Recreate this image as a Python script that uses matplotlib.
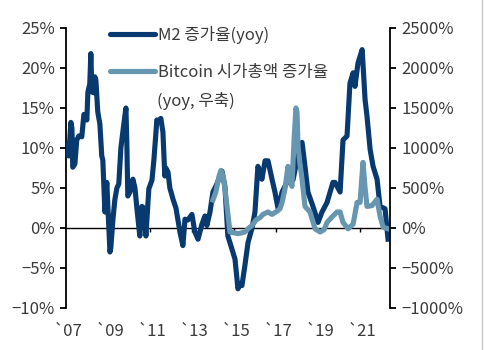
import matplotlib
matplotlib.use("Agg")
import matplotlib.pyplot as plt
from matplotlib.lines import Line2D

plt.rcParams['font.family'] = ['Noto Sans CJK KR', 'DejaVu Sans']

# M2 증가율 (yoy, %), 좌축
m2_year = [2007.00, 2007.10, 2007.14, 2007.24, 2007.29, 2007.33, 2007.43, 2007.52, 2007.62, 2007.76,
           2007.86, 2007.95, 2008.00, 2008.05, 2008.14, 2008.19, 2008.24, 2008.29, 2008.33, 2008.38,
           2008.43, 2008.52, 2008.62, 2008.71, 2008.76, 2008.86, 2008.95, 2009.00, 2009.10, 2009.14,
           2009.24, 2009.33, 2009.43, 2009.52, 2009.62, 2009.76, 2009.86, 2009.90, 2009.95, 2010.05,
           2010.19, 2010.29, 2010.38, 2010.52, 2010.62, 2010.71, 2010.81, 2010.95, 2011.10, 2011.19,
           2011.29, 2011.33, 2011.43, 2011.52, 2011.62, 2011.71, 2011.76, 2011.86, 2011.95, 2012.10,
           2012.24, 2012.43, 2012.57, 2012.67, 2012.81, 2013.00, 2013.14, 2013.29, 2013.48, 2013.62,
           2013.71, 2013.86, 2014.00, 2014.19, 2014.33, 2014.43, 2014.57, 2014.71, 2014.90, 2015.05,
           2015.19, 2015.29, 2015.38, 2015.52, 2015.67, 2015.86, 2016.00, 2016.14, 2016.24, 2016.33,
           2016.48, 2016.62, 2016.81, 2016.95, 2017.10, 2017.29, 2017.52, 2017.81, 2018.00, 2018.24,
           2018.38, 2018.52, 2018.76, 2019.00, 2019.19, 2019.43, 2019.71, 2019.81, 2020.05, 2020.19,
           2020.38, 2020.52, 2020.67, 2020.76, 2020.90, 2021.10, 2021.24, 2021.33, 2021.48, 2021.62,
           2021.81, 2021.95, 2022.19, 2022.33]
m2_yoy = [9.5, 10.5, 9.0, 13.2, 12.5, 7.6, 8.0, 11.0, 11.5, 11.4,
          14.2, 14.0, 13.5, 17.0, 18.0, 21.8, 17.0, 17.5, 16.9, 18.9,
          18.5, 14.5, 13.0, 9.0, 8.5, 2.0, 5.7, 2.7, -3.0, -2.5,
          1.0, 3.5, 5.0, 5.5, 10.0, 13.0, 15.0, 11.0, 4.0, 4.5,
          6.1, 5.0, 2.5, -1.0, 2.7, 2.5, -1.0, 4.9, 6.0, 8.5,
          12.0, 13.5, 13.4, 13.7, 12.0, 6.5, 7.5, 7.0, 5.0, 3.6,
          2.5, -0.5, -2.2, 1.1, 1.0, 1.7, -0.5, -1.4, 0.5, 1.5,
          0.3, 2.0, 4.5, 5.5, 6.5, 7.1, 5.2, -1.0, -2.6, -3.9,
          -7.6, -7.0, -7.2, -4.7, -1.8, 0.0, 2.0, 7.7, 7.0, 6.1,
          8.4, 8.4, 6.1, 4.5, 2.4, 4.5, 5.7, 6.0, 8.5, 10.7,
          7.7, 4.5, 2.7, 0.7, 2.0, 3.2, 5.7, 5.7, 4.5, 11.0,
          11.5, 18.1, 19.4, 17.7, 20.6, 22.3, 16.0, 14.0, 9.8, 7.7,
          6.1, 2.7, 2.4, -1.4]

# Bitcoin 시가총액 증가율 (yoy, %), 우축
btc_year = [2014.00, 2014.14, 2014.29, 2014.38, 2014.48, 2014.57, 2014.67, 2014.81, 2015.00, 2015.19,
            2015.38, 2015.52, 2015.71, 2015.86, 2016.05, 2016.24, 2016.38, 2016.62, 2016.81, 2017.05,
            2017.19, 2017.29, 2017.43, 2017.57, 2017.67, 2017.76, 2017.86, 2017.95, 2018.00, 2018.05,
            2018.14, 2018.24, 2018.38, 2018.62, 2018.86, 2019.10, 2019.29, 2019.43, 2019.71, 2019.90,
            2020.05, 2020.19, 2020.43, 2020.67, 2020.86, 2021.00, 2021.14, 2021.24, 2021.33, 2021.57,
            2021.81, 2021.95, 2022.10, 2022.33]
btc_yoy = [350, 450, 650, 720, 650, 500, 270, -50, -60, -70,
           -60, -50, 0, 30, 100, 130, 170, 200, 170, 210,
           240, 320, 490, 770, 600, 520, 1100, 1500, 1450, 1020,
           800, 610, 270, 200, -10, -50, -20, 70, 150, 200,
           200, 70, -10, 50, 320, 320, 820, 500, 270, 280,
           360, 150, 10, -10]

x_ticks = list(range(2007, 2022, 2))
x_labels = ["`07", "`09", "`11", "`13", "`15", "`17", "`19", "`21"]
left_ticks = [-10, -5, 0, 5, 10, 15, 20, 25]
right_ticks = [-1000, -500, 0, 500, 1000, 1500, 2000, 2500]

navy = "#083a70"
steel = "#6696b0"
txt = "#3a3a3a"

fig = plt.figure(figsize=(4.84, 3.5), dpi=100)
ax = fig.add_axes([0.136, 0.12, 0.67, 0.80])
ax2 = ax.twinx()

ax.plot(m2_year, m2_yoy, color=navy, lw=3.7, solid_joinstyle="round", zorder=3)
ax2.plot(btc_year, btc_yoy, color=steel, lw=3.7, solid_joinstyle="round", zorder=2)

ax.set_xlim(2007.0, 2022.43)
ax.set_ylim(-10, 25)
ax2.set_ylim(-1000, 2500)

ax.set_yticks(left_ticks)
ax.set_yticklabels([f"{v}%".replace("-", "\u2212") for v in left_ticks])
ax2.set_yticks(right_ticks)
ax2.set_yticklabels([f"{v}%".replace("-", "\u2212") for v in right_ticks])

for a in (ax, ax2):
    a.spines["top"].set_visible(False)
    a.spines["bottom"].set_visible(False)
ax.spines["right"].set_visible(False)
ax2.spines["left"].set_visible(False)
ax.spines["left"].set_linewidth(1.3)
ax2.spines["right"].set_linewidth(1.3)

ax.tick_params(axis="y", direction="out", length=4, width=1.3, labelsize=12, labelcolor=txt, color="black", pad=4)
ax2.tick_params(axis="y", direction="out", length=4, width=1.3, labelsize=12, labelcolor=txt, color="black", pad=4)

# 0% 기준선과 연도 눈금
ax.axhline(0, color="black", lw=1.0, zorder=1)
ax.set_xticks(x_ticks)
ax.set_xticklabels([])
ax.tick_params(axis="x", length=0)
ax.vlines(x_ticks[1:], -0.55, 0, color="black", lw=1.0)
for xt, lab in zip(x_ticks, x_labels):
    ax.text(xt + 0.1, -0.085, lab, transform=ax.get_xaxis_transform(), ha="center", va="center",
            fontsize=12, color=txt)

handles = [Line2D([], [], color=navy, lw=3.7, solid_capstyle="round"),
           Line2D([], [], color=steel, lw=3.7, solid_capstyle="round")]
leg = ax2.legend(handles, ["M2 증가율(yoy)", "Bitcoin 시가총액 증가율"], loc="upper left",
                 bbox_to_anchor=(0.115, 1.03), frameon=False, fontsize=12, handlelength=2.7,
                 handletextpad=0.2, labelspacing=1.2, borderaxespad=0)
for t in leg.get_texts():
    t.set_color(txt)
fig.text(157 / 484, 1 - 101 / 350, "(yoy, 우축)", fontsize=12, color=txt, ha="left", va="center")

fig.add_artist(Line2D([0.995, 0.995], [0, 1], color="#c8c8c8", lw=1.0, transform=fig.transFigure))

fig.savefig("out.png", dpi=100)
